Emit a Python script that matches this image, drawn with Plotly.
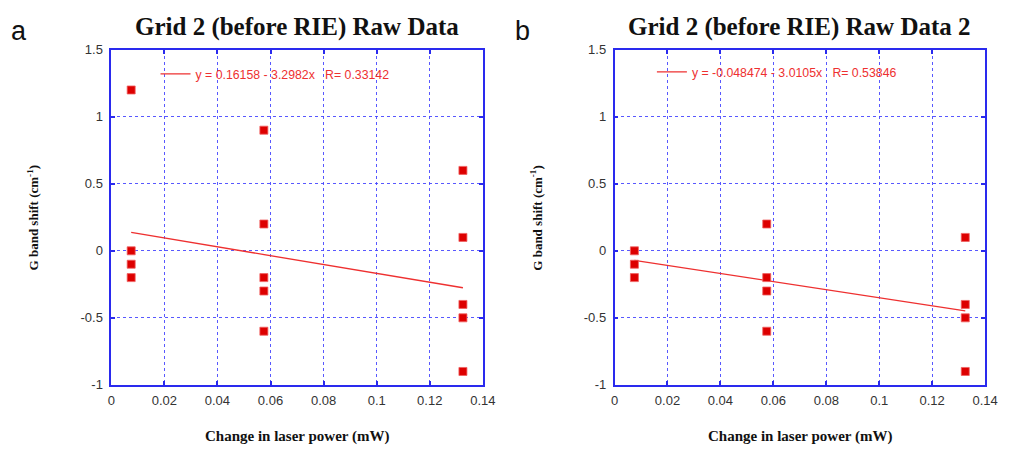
import plotly.graph_objects as go

# ---- data ----
x_a = [0.0075, 0.0075, 0.0075, 0.0075,
       0.0575, 0.0575, 0.0575, 0.0575, 0.0575,
       0.1325, 0.1325, 0.1325, 0.1325, 0.1325]
y_a = [1.2, 0.0, -0.1, -0.2,
       0.9, 0.2, -0.2, -0.3, -0.6,
       0.6, 0.1, -0.4, -0.5, -0.9]
x_b = [0.0075, 0.0075, 0.0075,
       0.0575, 0.0575, 0.0575, 0.0575,
       0.1325, 0.1325, 0.1325, 0.1325]
y_b = [0.0, -0.1, -0.2,
       0.2, -0.2, -0.3, -0.6,
       0.1, -0.4, -0.5, -0.9]
fit_a = {"intercept": 0.16158, "slope": -3.2982, "R": 0.33142}
fit_b = {"intercept": -0.048474, "slope": -3.0105, "R": 0.53846}
fit_x = [0.0075, 0.1325]
titles = ["Grid 2 (before RIE) Raw Data", "Grid 2 (before RIE) Raw Data 2"]
x_ticks = [0, 0.02, 0.04, 0.06, 0.08, 0.1, 0.12, 0.14]
x_ticktext = ["0", "0.02", "0.04", "0.06", "0.08", "0.1", "0.12", "0.14"]
y_ticks = [-1, -0.5, 0, 0.5, 1, 1.5]
y_ticktext = ["-1", "-0.5", "0", "0.5", "1", "1.5"]
x_title = "Change in laser power (mW)"
y_title = "G band shift (cm<sup>-1</sup>)"
panel_labels = ["a", "b"]

# page has an 8px body margin; figure sized so the page fits the window
OFF = 8
W, H = 1013 - 2 * OFF, 453 - 2 * OFF


def px(x):
    return (x - OFF) / W


def py(y):
    return 1 - (y - OFF) / H


MARK = "#dd0000"
LINE = "#ee3030"
BLUE = "#2a2aee"
GRID = "rgba(70,70,255,0.9)"

fig = go.Figure()


def fit_line(fit):
    return [fit["intercept"] + fit["slope"] * x for x in fit_x]


def fit_name(fit):
    return "y = %s - %sx   R= %s" % (f'{fit["intercept"]:g}', f'{-fit["slope"]:g}', f'{fit["R"]:g}')


for i, (xs, ys, fit) in enumerate([(x_a, y_a, fit_a), (x_b, y_b, fit_b)]):
    xa = "x" if i == 0 else "x2"
    ya = "y" if i == 0 else "y2"
    lg = "legend" if i == 0 else "legend2"
    fig.add_trace(go.Scatter(
        x=fit_x, y=fit_line(fit), mode="lines", xaxis=xa, yaxis=ya,
        line=dict(color=LINE, width=1.3), name=fit_name(fit), legend=lg,
        showlegend=True))
    fig.add_trace(go.Scatter(
        x=xs, y=ys, mode="markers", xaxis=xa, yaxis=ya, showlegend=False,
        marker=dict(symbol="square", size=8, color=MARK,
                    line=dict(color="#f06060", width=0.8))))

doms_x = [[px(109), px(487)], [px(621), px(998)]]
dom_y = [py(391), py(44)]

axis_common = dict(
    showgrid=True, gridcolor=GRID, griddash="dot", gridwidth=1,
    showline=True, linecolor=BLUE, linewidth=1.5, mirror="ticks",
    ticks="inside", ticklen=4, tickcolor=BLUE, tickwidth=1.5,
    zeroline=False,
    tickfont=dict(family="Liberation Sans, Arial", size=13, color="#333333"),
)

legend_font = dict(family="Liberation Sans, Arial", size=12.3, color=LINE)
layout = dict(
    width=W, height=H, margin=dict(l=0, r=0, t=0, b=0),
    paper_bgcolor="white", plot_bgcolor="white",
    xaxis=dict(domain=doms_x[0], range=[0, 0.14], tickvals=x_ticks, ticktext=x_ticktext,
               anchor="y", ticklabelstandoff=3, **axis_common),
    yaxis=dict(domain=dom_y, range=[-1, 1.5], tickvals=y_ticks, ticktext=y_ticktext,
               anchor="x", ticklabelstandoff=4, **axis_common),
    xaxis2=dict(domain=doms_x[1], range=[0, 0.14], tickvals=x_ticks, ticktext=x_ticktext,
                anchor="y2", ticklabelstandoff=3, **axis_common),
    yaxis2=dict(domain=dom_y, range=[-1, 1.5], tickvals=y_ticks, ticktext=y_ticktext,
                anchor="x2", ticklabelstandoff=4, **axis_common),
    legend=dict(x=px(154), y=py(69), xanchor="left", yanchor="middle",
                bgcolor="rgba(0,0,0,0)", borderwidth=0, font=legend_font),
    legend2=dict(x=px(659), y=py(67), xanchor="left", yanchor="middle",
                 bgcolor="rgba(0,0,0,0)", borderwidth=0, font=legend_font),
)
fig.update_layout(**layout)

serif_b = "Liberation Serif, Times New Roman"
centers = [(109 + 487) / 2, (621 + 998) / 2]
ytitle_x = [29, 541]
label_x = [15, 527]
for i in range(2):
    fig.add_annotation(text="<b>%s</b>" % titles[i], x=px(centers[i]), y=py(20.5),
                       xref="paper", yref="paper", showarrow=False,
                       xanchor="center", yanchor="middle",
                       font=dict(family=serif_b, size=25, color="#111111"))
    fig.add_annotation(text="<b>%s</b>" % x_title, x=px(centers[i]), y=py(444.5),
                       xref="paper", yref="paper", showarrow=False,
                       xanchor="center", yanchor="middle",
                       font=dict(family=serif_b, size=15, color="#111111"))
    fig.add_annotation(text="<b>%s</b>" % y_title, x=px(ytitle_x[i]), y=py(218),
                       xref="paper", yref="paper", showarrow=False, textangle=-90,
                       xanchor="center", yanchor="middle",
                       font=dict(family=serif_b, size=13, color="#111111"))
    fig.add_annotation(text=panel_labels[i], x=px(label_x[i]), y=py(25),
                       xref="paper", yref="paper", showarrow=False,
                       xanchor="center", yanchor="middle",
                       font=dict(family="Liberation Sans, Arial", size=27, color="#111111"))

fig.write_html("out.html")
